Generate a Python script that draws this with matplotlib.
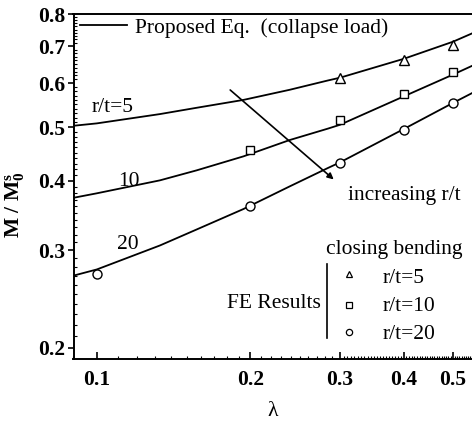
import numpy as np
import matplotlib

matplotlib.use('Agg')

import matplotlib.pyplot as plt
import matplotlib.ticker as ticker

plt.rcParams['font.family'] = ['Liberation Serif', 'DejaVu Serif']
plt.rcParams['mathtext.fontset'] = 'custom'
plt.rcParams['mathtext.rm'] = 'Liberation Serif'
plt.rcParams['mathtext.it'] = 'Liberation Serif:italic'
plt.rcParams['mathtext.bf'] = 'Liberation Serif:bold'

# Proposed equation (collapse load), sampled along lambda
lam_curve = [0.09, 0.10, 0.133, 0.157, 0.194, 0.239, 0.284, 0.30, 0.40, 0.50, 0.545]
eq_rt5 = [0.503, 0.508, 0.528, 0.542, 0.560, 0.584, 0.607, 0.614, 0.664, 0.713, 0.738]
eq_rt10 = [0.373, 0.380, 0.401, 0.418, 0.443, 0.474, 0.497, 0.505, 0.568, 0.622, 0.645]
eq_rt20 = [0.270, 0.277, 0.306, 0.327, 0.356, 0.391, 0.422, 0.432, 0.496, 0.553, 0.576]

# FE results, closing bending
lam_fe5 = [0.3, 0.4, 0.5]
fe_rt5 = [0.613, 0.661, 0.704]
lam_fe10 = [0.2, 0.3, 0.4, 0.5]
fe_rt10 = [0.455, 0.516, 0.574, 0.630]
lam_fe20 = [0.1, 0.2, 0.3, 0.4, 0.5]
fe_rt20 = [0.272, 0.361, 0.431, 0.495, 0.554]

x_ticks = [0.1, 0.2, 0.3, 0.4, 0.5]
y_ticks = [0.2, 0.3, 0.4, 0.5, 0.6, 0.7, 0.8]

FS = 15.5

fig = plt.figure(figsize=(4.72, 4.22), dpi=100)
ax = fig.add_axes([73.5 / 472, 63 / 422, 398.5 / 472, 345 / 422])

ax.set_xscale('log')
ax.set_yscale('log')

for m in (eq_rt5, eq_rt10, eq_rt20):
    ax.plot(lam_curve, m, color='k', lw=1.3)

mk = dict(ls='none', mfc='white', mec='k', mew=1.0, ms=6.5)
ax.plot(lam_fe5, fe_rt5, marker='^', **mk)
ax.plot(lam_fe10, fe_rt10, marker='s', **dict(mk, ms=6))
ax.plot(lam_fe20, fe_rt20, marker='o', **mk)

ax.set_xlim(0.09, 0.545)
ax.set_ylim(0.191, 0.8)

# ticks: labelled majors, dense minors
ax.xaxis.set_major_locator(ticker.FixedLocator(x_ticks))
ax.xaxis.set_major_formatter(ticker.FixedFormatter([str(v) for v in x_ticks]))
ax.xaxis.set_minor_locator(ticker.FixedLocator(
    np.concatenate([np.arange(0.09, 0.3, 0.01), np.arange(0.3, 0.55, 0.005)])))
ax.xaxis.set_minor_formatter(ticker.NullFormatter())
ax.yaxis.set_major_locator(ticker.FixedLocator(y_ticks))
ax.yaxis.set_major_formatter(ticker.FixedFormatter([str(v) for v in y_ticks]))
ax.yaxis.set_minor_locator(ticker.FixedLocator(np.arange(0.19, 0.8, 0.01)))
ax.yaxis.set_minor_formatter(ticker.NullFormatter())

ax.tick_params(axis='x', which='major', direction='in', length=5, width=1.2, pad=8)
ax.tick_params(axis='x', which='minor', direction='in', length=2.5, width=0.8)
ax.tick_params(axis='y', which='major', direction='out', length=4, width=1.2, pad=2)
ax.tick_params(axis='y', which='minor', direction='in', length=2.5, width=0.8)
for lab in ax.get_xticklabels() + ax.get_yticklabels():
    lab.set_fontsize(FS)
    lab.set_fontweight('bold')

ax.spines['right'].set_visible(False)
for s in ('left', 'bottom', 'top'):
    ax.spines[s].set_linewidth(1.4)

ax.set_ylabel(r'M / M$_\mathbf{0}^\mathbf{s}$', fontsize=FS, fontweight='bold')
ax.yaxis.set_label_coords(-0.117, 0.446)
ax.set_xlabel('λ', fontsize=FS)
ax.xaxis.set_label_coords(0.5, -0.125)

# curve labels
ax.text(0.0979, 0.533, 'r/t=5', fontsize=FS, va='baseline')
ax.text(0.110, 0.391, '10', fontsize=FS, va='baseline')
ax.text(0.1096, 0.301, '20', fontsize=FS, va='baseline')

ax.annotate('', xy=(0.2945, 0.3995), xytext=(0.181, 0.588),
            arrowprops=dict(arrowstyle='-|>', color='k', lw=1.2, mutation_scale=9))
ax.text(0.311, 0.370, 'increasing r/t', fontsize=FS, va='baseline')

# key for the proposed equation
tr = ax.transAxes
ax.plot([0.0163, 0.1343], [0.968, 0.968], color='k', lw=1.3, transform=tr, clip_on=False)
ax.text(0.154, 0.945, 'Proposed Eq.  (collapse load)', fontsize=FS, va='baseline', transform=tr)

# key for FE results
ax.text(0.634, 0.304, 'closing bending', fontsize=FS, va='baseline', transform=tr)
ax.plot([0.636, 0.636], [0.061, 0.275], color='k', lw=1.2, transform=tr)
ax.text(0.621, 0.148, 'FE Results', fontsize=FS, va='baseline', ha='right', transform=tr)
key_mk = dict(ls='none', mfc='white', mec='k', mew=0.9, ms=4.5, transform=tr)
ax.plot([0.691], [0.246], marker='^', **key_mk)
ax.plot([0.691], [0.157], marker='s', **dict(key_mk, ms=4))
ax.plot([0.691], [0.078], marker='o', **key_mk)
ax.text(0.776, 0.220, 'r/t=5', fontsize=FS, va='baseline', transform=tr)
ax.text(0.776, 0.139, 'r/t=10', fontsize=FS, va='baseline', transform=tr)
ax.text(0.776, 0.058, 'r/t=20', fontsize=FS, va='baseline', transform=tr)

fig.savefig('out.png', dpi=100)
